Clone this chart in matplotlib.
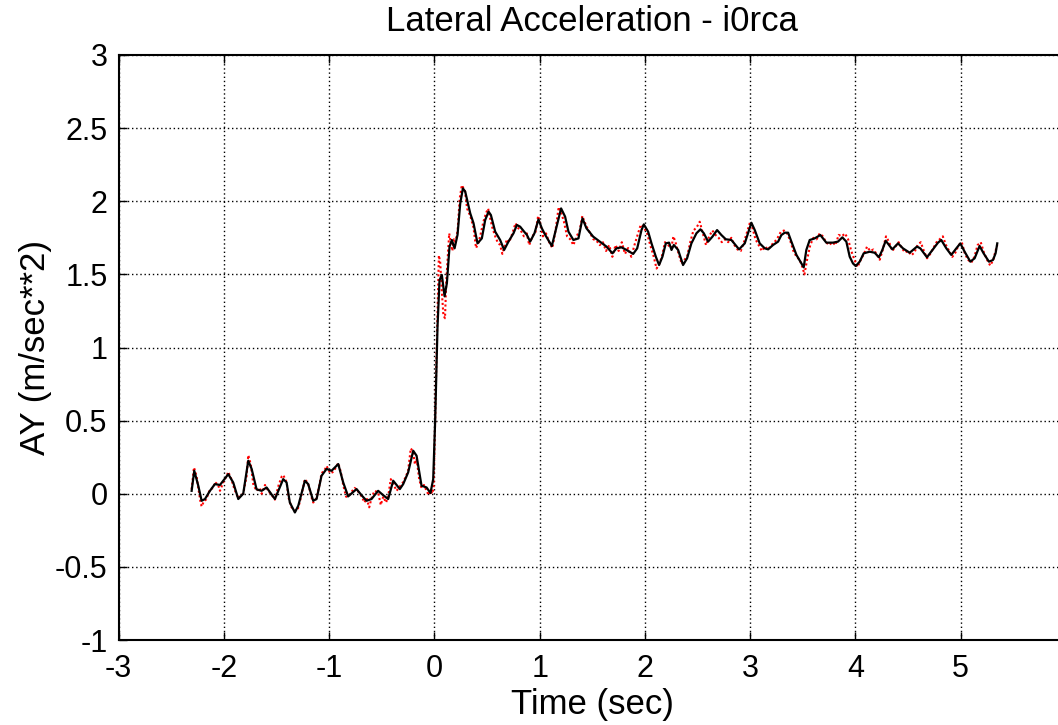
import matplotlib
matplotlib.use("Agg")
import matplotlib.pyplot as plt

# Filtered signal (black) - time (sec), AY (m/sec**2)
t_black = [-2.307, -2.282, -2.244, -2.212, -2.18, -2.133, -2.086, -2.038, -1.959, -1.912,
           -1.864, -1.817, -1.769, -1.737, -1.69, -1.642, -1.595, -1.516, -1.437, -1.405,
           -1.374, -1.326, -1.294, -1.231, -1.2, -1.152, -1.12, -1.073, -1.025, -0.978,
           -0.914, -0.867, -0.82, -0.74, -0.693, -0.645, -0.598, -0.535, -0.487, -0.44,
           -0.392, -0.329, -0.297, -0.25, -0.202, -0.17, -0.123, -0.075, -0.038, -0.012,
           0.007, 0.029, 0.048, 0.07, 0.096, 0.118, 0.143, 0.165, 0.191, 0.219,
           0.245, 0.27, 0.292, 0.34, 0.371, 0.409, 0.45, 0.482, 0.514, 0.536,
           0.577, 0.624, 0.662, 0.703, 0.751, 0.783, 0.814, 0.852, 0.878, 0.909,
           0.95, 0.988, 1.02, 1.052, 1.115, 1.156, 1.203, 1.241, 1.273, 1.32,
           1.368, 1.406, 1.444, 1.508, 1.571, 1.634, 1.691, 1.729, 1.777, 1.824,
           1.888, 1.926, 1.967, 1.989, 2.03, 2.062, 2.103, 2.134, 2.166, 2.198,
           2.229, 2.252, 2.274, 2.315, 2.362, 2.4, 2.441, 2.489, 2.527, 2.559,
           2.6, 2.641, 2.685, 2.726, 2.768, 2.821, 2.894, 2.948, 2.989, 3.011,
           3.043, 3.09, 3.138, 3.17, 3.217, 3.265, 3.296, 3.328, 3.36, 3.391,
           3.439, 3.477, 3.508, 3.533, 3.565, 3.612, 3.666, 3.723, 3.787, 3.834,
           3.875, 3.913, 3.945, 3.976, 4.002, 4.04, 4.078, 4.135, 4.182, 4.223,
           4.255, 4.287, 4.318, 4.35, 4.404, 4.451, 4.515, 4.584, 4.616, 4.679,
           4.736, 4.784, 4.815, 4.863, 4.91, 4.958, 4.996, 5.037, 5.091, 5.132,
           5.179, 5.217, 5.268, 5.306, 5.331, 5.347]
ay_black = [0.02, 0.157, 0.055, -0.048, -0.036, 0.02, 0.066, 0.06, 0.134, 0.077,
            -0.036, 0.0, 0.226, 0.17, 0.03, 0.02, 0.043, -0.036, 0.1, 0.077,
            -0.06, -0.128, -0.082, 0.089, 0.066, -0.048, -0.036, 0.123, 0.17, 0.157,
            0.203, 0.077, -0.018, 0.032, -0.01, -0.048, -0.036, 0.02, -0.01, -0.036,
            0.089, 0.032, 0.066, 0.146, 0.294, 0.26, 0.055, 0.043, 0.005, 0.1,
            0.51, 1.143, 1.46, 1.496, 1.35, 1.44, 1.69, 1.735, 1.678, 1.77,
            1.986, 2.088, 2.066, 1.917, 1.85, 1.712, 1.746, 1.872, 1.929, 1.906,
            1.792, 1.735, 1.667, 1.724, 1.781, 1.838, 1.826, 1.792, 1.77, 1.724,
            1.781, 1.876, 1.815, 1.77, 1.694, 1.815, 1.951, 1.895, 1.792, 1.735,
            1.746, 1.883, 1.815, 1.758, 1.724, 1.69, 1.644, 1.678, 1.685, 1.667,
            1.64, 1.678, 1.803, 1.842, 1.792, 1.712, 1.621, 1.564, 1.621, 1.712,
            1.717, 1.667, 1.701, 1.667, 1.564, 1.61, 1.712, 1.781, 1.808, 1.781,
            1.724, 1.758, 1.803, 1.769, 1.74, 1.735, 1.671, 1.712, 1.803, 1.853,
            1.803, 1.712, 1.678, 1.671, 1.701, 1.724, 1.769, 1.785, 1.785, 1.724,
            1.633, 1.587, 1.548, 1.667, 1.735, 1.746, 1.769, 1.717, 1.717, 1.724,
            1.753, 1.724, 1.621, 1.575, 1.557, 1.587, 1.644, 1.655, 1.648, 1.617,
            1.667, 1.73, 1.701, 1.671, 1.712, 1.678, 1.648, 1.69, 1.678, 1.617,
            1.671, 1.717, 1.735, 1.678, 1.633, 1.678, 1.712, 1.655, 1.587, 1.61,
            1.694, 1.644, 1.587, 1.598, 1.644, 1.712]

# Raw signal (red dotted)
t_red = [-2.307, -2.285, -2.26, -2.244, -2.222, -2.212, -2.19, -2.17, -2.133, -2.1,
         -2.086, -2.055, -2.038, -2.0, -1.975, -1.959, -1.93, -1.9, -1.864, -1.84,
         -1.817, -1.785, -1.769, -1.745, -1.72, -1.69, -1.66, -1.642, -1.61, -1.58,
         -1.545, -1.516, -1.48, -1.45, -1.437, -1.405, -1.385, -1.36, -1.326, -1.3,
         -1.27, -1.231, -1.2, -1.17, -1.152, -1.12, -1.09, -1.073, -1.045, -1.025,
         -0.99, -0.96, -0.93, -0.914, -0.89, -0.867, -0.84, -0.82, -0.79, -0.76,
         -0.74, -0.71, -0.69, -0.665, -0.645, -0.62, -0.598, -0.57, -0.535, -0.51,
         -0.487, -0.46, -0.44, -0.415, -0.392, -0.36, -0.329, -0.297, -0.27, -0.25,
         -0.225, -0.205, -0.185, -0.17, -0.145, -0.123, -0.1, -0.075, -0.055, -0.038,
         -0.02, -0.008, 0.005, 0.018, 0.03, 0.042, 0.055, 0.07, 0.085, 0.1,
         0.112, 0.125, 0.14, 0.155, 0.17, 0.185, 0.2, 0.22, 0.24, 0.26,
         0.275, 0.29, 0.31, 0.34, 0.371, 0.395, 0.42, 0.44, 0.465, 0.49,
         0.51, 0.53, 0.55, 0.577, 0.6, 0.624, 0.645, 0.665, 0.69, 0.71,
         0.74, 0.77, 0.79, 0.82, 0.85, 0.878, 0.9, 0.93, 0.96, 0.985,
         1.005, 1.03, 1.06, 1.09, 1.12, 1.15, 1.18, 1.205, 1.23, 1.26,
         1.29, 1.32, 1.35, 1.38, 1.405, 1.425, 1.45, 1.48, 1.51, 1.54,
         1.57, 1.6, 1.63, 1.66, 1.69, 1.72, 1.75, 1.78, 1.81, 1.84,
         1.87, 1.9, 1.93, 1.96, 1.99, 2.02, 2.05, 2.08, 2.11, 2.135,
         2.16, 2.19, 2.22, 2.25, 2.27, 2.29, 2.32, 2.35, 2.375, 2.4,
         2.43, 2.46, 2.49, 2.52, 2.55, 2.58, 2.61, 2.64, 2.67, 2.7,
         2.73, 2.76, 2.79, 2.82, 2.85, 2.88, 2.91, 2.94, 2.97, 3.0,
         3.02, 3.05, 3.08, 3.11, 3.14, 3.17, 3.2, 3.23, 3.26, 3.29,
         3.32, 3.35, 3.38, 3.41, 3.44, 3.47, 3.5, 3.515, 3.54, 3.57,
         3.6, 3.63, 3.66, 3.69, 3.72, 3.75, 3.78, 3.81, 3.84, 3.87,
         3.9, 3.93, 3.96, 3.99, 4.02, 4.05, 4.08, 4.11, 4.14, 4.17,
         4.2, 4.23, 4.26, 4.29, 4.32, 4.35, 4.38, 4.41, 4.44, 4.47,
         4.5, 4.53, 4.56, 4.59, 4.62, 4.65, 4.68, 4.71, 4.74, 4.77,
         4.8, 4.83, 4.86, 4.89, 4.92, 4.95, 4.98, 5.01, 5.04, 5.07,
         5.1, 5.13, 5.16, 5.19, 5.22, 5.25, 5.28, 5.31, 5.33, 5.347]
ay_red = [0.03, 0.18, 0.12, 0.04, -0.06, -0.087, -0.05, -0.04, 0.03, 0.04,
          0.08, 0.06, 0.02, 0.09, 0.12, 0.15, 0.1, 0.03, -0.03, -0.01,
          0.0, 0.12, 0.264, 0.2, 0.06, 0.02, 0.04, 0.0, 0.06, 0.02,
          -0.01, -0.04, 0.06, 0.12, 0.128, 0.08, -0.03, -0.09, -0.116, -0.11,
          -0.03, 0.1, 0.07, -0.02, -0.06, -0.03, 0.07, 0.14, 0.16, 0.19,
          0.14, 0.15, 0.19, 0.21, 0.15, 0.06, -0.02, -0.02, 0.01, 0.04,
          0.03, 0.0, -0.02, -0.06, -0.03, -0.093, -0.03, 0.02, 0.01, -0.077,
          -0.02, -0.06, -0.02, 0.1, 0.07, 0.02, 0.05, 0.08, 0.12, 0.16,
          0.31, 0.29, 0.2, 0.24, 0.1, 0.04, 0.06, 0.02, -0.01, 0.02,
          0.0, 0.05, 0.45, 0.9, 1.25, 1.63, 1.58, 1.38, 1.22, 1.2,
          1.45, 1.6, 1.78, 1.72, 1.66, 1.74, 1.72, 1.8, 2.02, 2.11,
          2.09, 2.07, 1.95, 1.9, 1.82, 1.68, 1.72, 1.78, 1.86, 1.92,
          1.95, 1.88, 1.82, 1.76, 1.72, 1.7, 1.64, 1.69, 1.74, 1.72,
          1.78, 1.85, 1.82, 1.8, 1.76, 1.78, 1.7, 1.76, 1.79, 1.9,
          1.85, 1.76, 1.78, 1.72, 1.68, 1.8, 1.96, 1.92, 1.86, 1.76,
          1.74, 1.7, 1.76, 1.8, 1.9, 1.86, 1.82, 1.78, 1.74, 1.73,
          1.7, 1.72, 1.66, 1.7, 1.62, 1.7, 1.66, 1.72, 1.64, 1.68,
          1.62, 1.7, 1.77, 1.84, 1.82, 1.78, 1.7, 1.63, 1.54, 1.57,
          1.62, 1.72, 1.7, 1.68, 1.76, 1.72, 1.64, 1.57, 1.6, 1.62,
          1.72, 1.8, 1.82, 1.86, 1.78, 1.7, 1.76, 1.8, 1.77, 1.75,
          1.72, 1.74, 1.72, 1.75, 1.7, 1.67, 1.66, 1.72, 1.79, 1.86,
          1.82, 1.74, 1.7, 1.66, 1.69, 1.67, 1.7, 1.72, 1.75, 1.79,
          1.8, 1.78, 1.73, 1.66, 1.62, 1.6, 1.54, 1.5, 1.6, 1.7,
          1.75, 1.74, 1.78, 1.76, 1.72, 1.7, 1.72, 1.7, 1.77, 1.76,
          1.78, 1.74, 1.66, 1.6, 1.55, 1.6, 1.64, 1.69, 1.66, 1.67,
          1.64, 1.6, 1.67, 1.76, 1.72, 1.66, 1.69, 1.72, 1.68, 1.65,
          1.66, 1.63, 1.65, 1.7, 1.72, 1.66, 1.61, 1.64, 1.68, 1.72,
          1.74, 1.76, 1.7, 1.66, 1.62, 1.65, 1.7, 1.72, 1.64, 1.6,
          1.58, 1.62, 1.7, 1.72, 1.65, 1.6, 1.56, 1.6, 1.66, 1.7]

x_ticks = [-3, -2, -1, 0, 1, 2, 3, 4, 5]
y_ticks = [-1, -0.5, 0, 0.5, 1, 1.5, 2, 2.5, 3]
y_tick_labels = ["-1", "-0.5", "0", "0.5", "1", "1.5", "2", "2.5", "3"]

plt.rcParams['font.family'] = ['Liberation Sans', 'DejaVu Sans']
plt.rcParams['axes.unicode_minus'] = False

fig = plt.figure(figsize=(10.58, 7.25), dpi=100)
ax = fig.add_axes([118.7 / 1058, 85 / 725, (1066 - 118.7) / 1058, 585 / 725])

ax.plot(t_red, ay_red, color='red', linestyle=(0, (1, 1.2)), linewidth=1.5)
ax.plot(t_black, ay_black, color='black', linewidth=1.6)

ax.set_xlim(-3, 6)
ax.set_ylim(-1, 3)
ax.set_xticks(x_ticks)
ax.set_yticks(y_ticks)
ax.set_yticklabels(y_tick_labels)
ax.grid(True, color='black', linestyle=(0, (1, 2)), linewidth=1.0)
ax.tick_params(direction='in', length=6, width=1, labelsize=22, top=True, right=True)
ax.tick_params(axis='x', pad=10)
ax.tick_params(axis='y', pad=8)
for s in ax.spines.values():
    s.set_linewidth(1.5)

ax.set_title("Lateral Acceleration - i0rca", fontsize=25, pad=17)
ax.set_xlabel("Time (sec)", fontsize=25, labelpad=3)
ax.set_ylabel("AY (m/sec**2)", fontsize=25, labelpad=2)

fig.savefig("out.png", dpi=100)
